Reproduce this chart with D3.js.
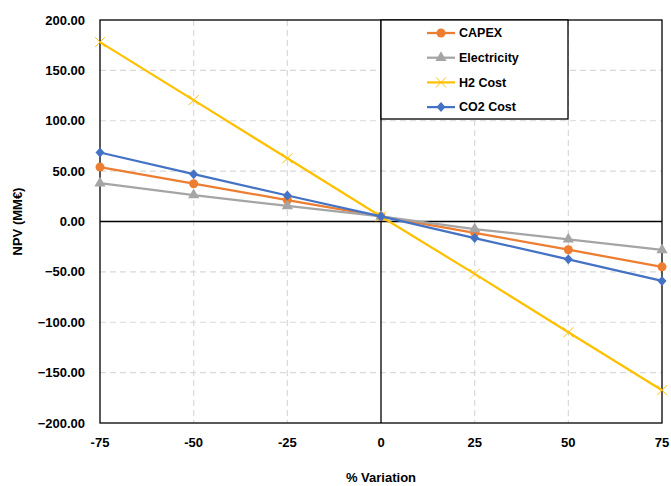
<!DOCTYPE html>
<html>
<head>
<meta charset="utf-8">
<script src="https://cdn.jsdelivr.net/npm/d3@7"></script>
<style>
  body { margin: 0; background: #fff; }
  text { font-family: "Liberation Sans", Arial, sans-serif; font-weight: bold; fill: #000; }
</style>
</head>
<body>
<svg id="chart" width="671" height="486"></svg>
<script>
const variation = [-75, -50, -25, 0, 25, 50, 75];
const capex = [54, 37.5, 21.3, 5, -11.2, -28, -45];
const electricity = [38, 26.2, 15.5, 5, -7.5, -17.7, -28.2];
const h2Cost = [178, 120.5, 62.7, 5, -52, -110, -167.5];
const co2Cost = [68.5, 47, 25.8, 5, -16.5, -37.5, -59];
const yTicks = [-200, -150, -100, -50, 0, 50, 100, 150, 200];
const xTicks = [-75, -50, -25, 0, 25, 50, 75];

const series = [
  { name: 'CAPEX', values: capex, color: '#ED7D31', marker: 'circle' },
  { name: 'Electricity', values: electricity, color: '#A5A5A5', marker: 'triangle' },
  { name: 'H2 Cost', values: h2Cost, color: '#FFC000', marker: 'cross' },
  { name: 'CO2 Cost', values: co2Cost, color: '#4472C4', marker: 'diamond' }
];

const svg = d3.select('#chart');
const plot = { left: 100, right: 662, top: 20, bottom: 423 };

const x = d3.scaleLinear().domain([-75, 75]).range([plot.left, plot.right]);
const y = d3.scaleLinear().domain([-200, 200]).range([plot.bottom, plot.top]);

// grid
svg.append('g')
  .selectAll('line')
  .data(yTicks.filter(d => d !== 0 && d !== 200 && d !== -200))
  .enter().append('line')
  .attr('x1', plot.left).attr('x2', plot.right)
  .attr('y1', d => y(d)).attr('y2', d => y(d))
  .attr('stroke', '#d9d9d9').attr('stroke-width', 1.2).attr('stroke-dasharray', '6,4');

svg.append('g')
  .selectAll('line')
  .data(xTicks.filter(d => d !== 0 && d !== -75 && d !== 75))
  .enter().append('line')
  .attr('x1', d => x(d)).attr('x2', d => x(d))
  .attr('y1', plot.top).attr('y2', plot.bottom)
  .attr('stroke', '#d9d9d9').attr('stroke-width', 1.2).attr('stroke-dasharray', '6,4');

// zero lines
svg.append('line').attr('x1', plot.left).attr('x2', plot.right).attr('y1', y(0)).attr('y2', y(0))
  .attr('stroke', '#000').attr('stroke-width', 1.3);
svg.append('line').attr('x1', x(0)).attr('x2', x(0)).attr('y1', plot.top).attr('y2', plot.bottom)
  .attr('stroke', '#000').attr('stroke-width', 1.3);

// plot border
svg.append('rect').attr('x', plot.left).attr('y', plot.top)
  .attr('width', plot.right - plot.left).attr('height', plot.bottom - plot.top)
  .attr('fill', 'none').attr('stroke', '#000').attr('stroke-width', 1.3);

// axis labels
const fmt = d3.format('.2f');
svg.append('g').selectAll('text').data(yTicks).enter().append('text')
  .attr('x', 85).attr('y', d => y(d)).attr('dy', '0.35em')
  .attr('text-anchor', 'end').style('font-size', '13px')
  .text(d => fmt(d));

svg.append('g').selectAll('text').data(xTicks).enter().append('text')
  .attr('x', d => x(d)).attr('y', 442).attr('dy', '0.35em')
  .attr('text-anchor', 'middle').style('font-size', '13px')
  .text(d => d);

svg.append('text').attr('x', x(0)).attr('y', 477).attr('dy', '0.35em')
  .attr('text-anchor', 'middle').style('font-size', '13px').text('% Variation');

svg.append('text').attr('transform', `translate(17,${y(0)}) rotate(-90)`).attr('dy', '0.35em')
  .attr('text-anchor', 'middle').style('font-size', '13px').text('NPV (MM€)');

// markers
function drawMarker(g, type, color) {
  if (type === 'circle') {
    g.append('circle').attr('r', 4.5).attr('fill', color);
  } else if (type === 'triangle') {
    g.append('path').attr('d', d3.symbol(d3.symbolTriangle, 55)()).attr('fill', color);
  } else if (type === 'diamond') {
    g.append('path').attr('d', 'M0,-5L4.5,0L0,5L-4.5,0Z').attr('fill', color);
  } else if (type === 'cross') {
    g.append('path').attr('d', 'M-5,-5L5,5M-5,5L5,-5').attr('stroke', color).attr('stroke-width', 1).attr('fill', 'none');
  }
}

const line = d3.line().x(d => x(d[0])).y(d => y(d[1]));

series.forEach(s => {
  const pts = variation.map((v, i) => [v, s.values[i]]);
  svg.append('path').datum(pts).attr('d', line)
    .attr('fill', 'none').attr('stroke', s.color).attr('stroke-width', 2.25);
  pts.forEach(p => {
    const g = svg.append('g').attr('transform', `translate(${x(p[0])},${y(p[1])})`);
    drawMarker(g, s.marker, s.color);
  });
});

// legend
const lg = svg.append('g');
lg.append('rect').attr('x', x(0)).attr('y', plot.top).attr('width', 187).attr('height', 99)
  .attr('fill', '#fff').attr('stroke', '#000').attr('stroke-width', 1.3);
series.forEach((s, i) => {
  const yy = 33 + i * 24.7;
  lg.append('line').attr('x1', 427).attr('x2', 455).attr('y1', yy).attr('y2', yy)
    .attr('stroke', s.color).attr('stroke-width', 2.25);
  const g = lg.append('g').attr('transform', `translate(441,${yy})`);
  drawMarker(g, s.marker, s.color);
  lg.append('text').attr('x', 459).attr('y', yy).attr('dy', '0.35em')
    .style('font-size', '12.5px').text(s.name);
});
</script>
</body>
</html>
